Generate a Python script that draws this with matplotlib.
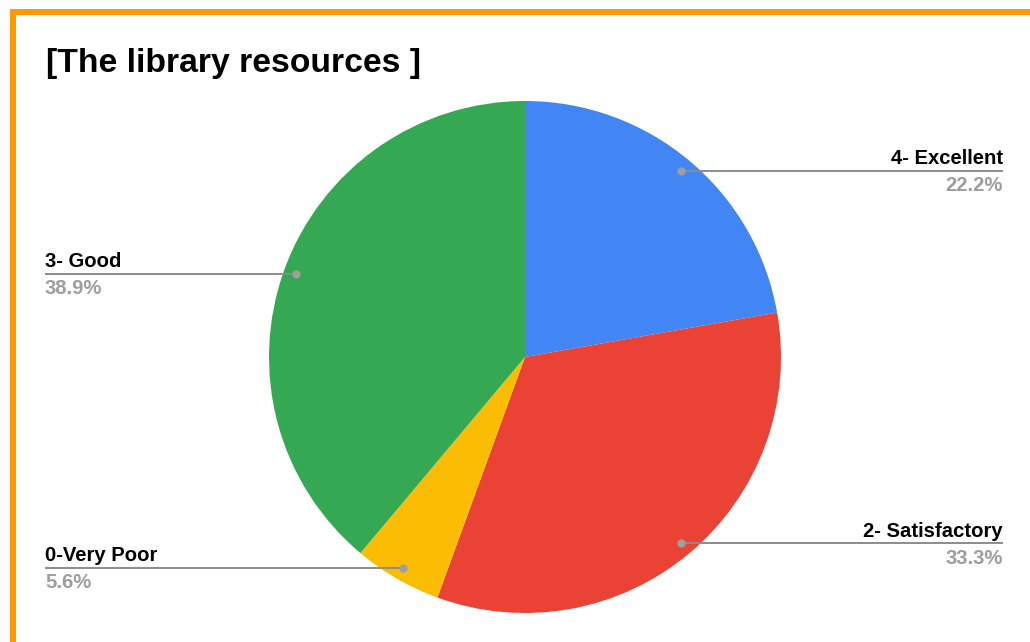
import numpy as np
import matplotlib
matplotlib.use("Agg")
import matplotlib.pyplot as plt
from matplotlib.patches import Rectangle

plt.rcParams['font.family'] = ['Liberation Sans', 'DejaVu Sans']

title = "[The library resources ]"
categories = ["4- Excellent", "2- Satisfactory", "0-Very Poor", "3- Good"]
counts = [4, 6, 1, 7]
colors = ["#4285F4", "#EA4335", "#FBBC04", "#34A853"]

W, H = 1030, 642
fig = plt.figure(figsize=(W / 100, H / 100), dpi=100)
ax = fig.add_axes([0, 0, 1, 1])

cx, cy, R = 525, H - 357, 256
wedges, _ = ax.pie(counts, colors=colors, startangle=90, counterclock=False,
                   center=(cx, cy), radius=R, frame=True,
                   wedgeprops=dict(linewidth=0))

ax.set_xlim(0, W)
ax.set_ylim(0, H)
ax.set_aspect('auto')
ax.axis('off')

total = sum(counts)
right_edge, left_edge = 1003, 45
for w, name, val in zip(wedges, categories, counts):
    mid = np.deg2rad((w.theta1 + w.theta2) / 2)
    dx, dy = cx + 0.95 * R * np.cos(mid), cy + 0.95 * R * np.sin(mid)
    pct = f"{100 * val / total:.1f}%"
    if np.cos(mid) >= 0:
        x0, x1, tx, ha = dx, right_edge, right_edge, 'right'
    else:
        x0, x1, tx, ha = left_edge, dx, left_edge, 'left'
    ax.plot([x0, x1], [dy, dy], color="#8c8c8c", lw=1.4, solid_capstyle='butt', zorder=3)
    ax.plot([dx], [dy], 'o', ms=6, color="#9e9e9e", mec='none', zorder=4)
    ax.text(tx, dy + 6.5, name, ha=ha, va='baseline', fontsize=14.6,
            fontweight='bold', color="#000000")
    ax.text(tx, dy - 5.5, pct, ha=ha, va='top', fontsize=14.6,
            fontweight='bold', color="#9e9e9e")

ax.text(46, H - 72, title, ha='left', va='baseline', fontsize=24.3,
        fontweight='bold', color="#000000")

# orange frame along the top and left edges
ax.add_patch(Rectangle((10, H - 15), W - 10, 6, color="#FF9900", lw=0, zorder=5))
ax.add_patch(Rectangle((10, 0), 6, H - 9, color="#FF9900", lw=0, zorder=5))

fig.savefig("out.png", dpi=100, facecolor="white")
